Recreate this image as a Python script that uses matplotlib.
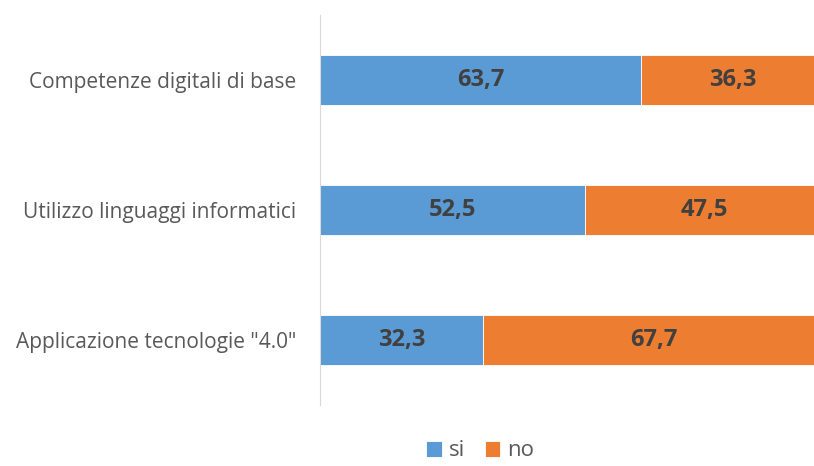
import numpy as np
import matplotlib.pyplot as plt

plt.rcParams['font.family'] = ['Open Sans', 'DejaVu Sans']

# dati
categorie = ['Applicazione tecnologie "4.0"', 'Utilizzo linguaggi informatici', 'Competenze digitali di base']
si = [32.3, 52.5, 63.7]
no = [67.7, 47.5, 36.3]

blu, arancio = '#5B9BD5', '#ED7D31'

fig = plt.figure(figsize=(8.14, 4.66), dpi=100)
ax = fig.add_axes([320/814, 61/466, (824-320)/814, 390/466])

y = np.arange(len(categorie))
b1 = ax.barh(y, si, height=0.39, color=blu, label='si', edgecolor='white', linewidth=0.6)
b2 = ax.barh(y, no, left=si, height=0.39, color=arancio, label='no', edgecolor='white', linewidth=0.6)

# etichette dei valori
for bars, vals, base in [(b1, si, [0]*3), (b2, no, si)]:
    for i, v in enumerate(vals):
        ax.text(base[i] + v/2, y[i], f'{v:.1f}'.replace('.', ','), ha='center', va='center',
                fontsize=17, fontweight='bold', color='#404040')

ax.set_xlim(0, 100)
ax.set_ylim(-0.5, 2.5)
ax.set_yticks(y)
ax.set_yticklabels(categorie, fontsize=15, color='#595959')
ax.tick_params(axis='y', length=0, pad=17)
ax.set_xticks([])
for s in ['top', 'right', 'bottom']:
    ax.spines[s].set_visible(False)
ax.spines['left'].set_color('#D9D9D9')

fig.legend(handles=[b1, b2], loc='center', bbox_to_anchor=(480/814, 1 - 451/466), ncol=2,
           frameon=False, fontsize=16, handlelength=0.7, handleheight=0.7,
           handletextpad=0.3, columnspacing=0.9, labelcolor='#595959',
           borderpad=0.2)

fig.savefig('out.png', dpi=100)
